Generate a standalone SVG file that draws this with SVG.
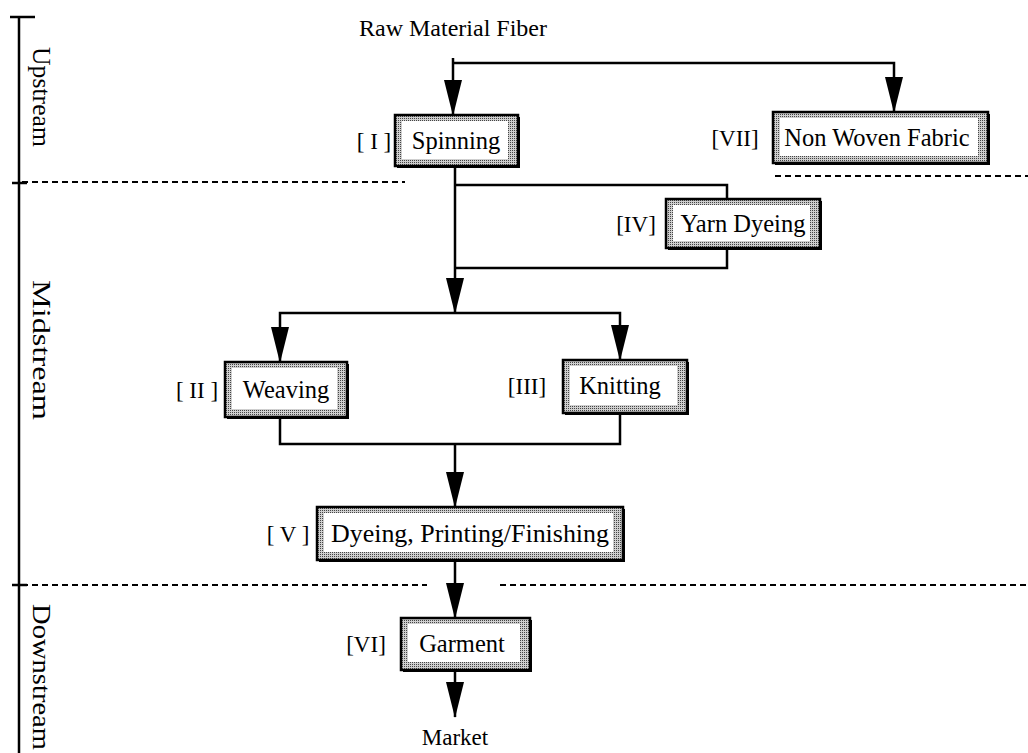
<svg xmlns="http://www.w3.org/2000/svg" width="1028" height="753" viewBox="0 0 1028 753">
<style>
text{font-family:"Liberation Serif","Times New Roman",serif;fill:#000}
.t{font-size:24.5px;text-anchor:middle}
.lab{font-size:23px;text-anchor:middle}
.side{font-size:25px;text-anchor:middle}
.ln{fill:none;stroke:#000;stroke-width:2.5}
.dash{fill:none;stroke:#000;stroke-width:2;stroke-dasharray:6 4}
.shadow{fill:#000}
.outer{fill:url(#dots);stroke:#000;stroke-width:2.5}
.inner{fill:#fff}
</style>
<defs>
<pattern id="dots" width="2" height="2" patternUnits="userSpaceOnUse">
<rect width="2" height="2" fill="#cfcfcf"/>
<rect width="1" height="1" fill="#444"/>
</pattern>
<marker id="arr" markerUnits="userSpaceOnUse" markerWidth="36" markerHeight="18" viewBox="0 0 36 18" refX="35" refY="9" orient="auto">
<path d="M0,0 L36,9 L0,18 Z" fill="#000"/>
</marker>
</defs>

<g id="axis">
<line class="ln" x1="19" y1="17" x2="19" y2="753" stroke-width="3"/>
<line class="ln" x1="10" y1="17" x2="35" y2="17" stroke-width="3"/>
<line class="ln" x1="12" y1="183" x2="27" y2="183"/>
<line class="ln" x1="12" y1="585" x2="27" y2="585"/>
<text class="side" transform="translate(33,97) rotate(90)" textLength="100" lengthAdjust="spacingAndGlyphs">Upstream</text>
<text class="side" transform="translate(33,350) rotate(90)" textLength="140" lengthAdjust="spacingAndGlyphs">Midstream</text>
<text class="side" transform="translate(33,677) rotate(90)" textLength="146" lengthAdjust="spacingAndGlyphs">Downstream</text>
</g>

<g id="dividers">
<line class="dash" x1="22" y1="182" x2="405" y2="182"/>
<line class="dash" x1="775" y1="176" x2="1028" y2="176"/>
<line class="dash" x1="22" y1="585" x2="427" y2="585"/>
<line class="dash" x1="500" y1="585" x2="1028" y2="585"/>
</g>

<g id="connectors">
<path class="ln" d="M453,58 V115" marker-end="url(#arr)"/>
<path class="ln" d="M453,63 H894 V112" marker-end="url(#arr)"/>
<path class="ln" d="M455,166 V313" marker-end="url(#arr)"/>
<path class="ln" d="M455,185 H727 V199"/>
<path class="ln" d="M727,248 V268 H455"/>
<path class="ln" d="M455,313 H280 V362" marker-end="url(#arr)"/>
<path class="ln" d="M455,313 H620 V360" marker-end="url(#arr)"/>
<path class="ln" d="M280,417 V444 H620 V413"/>
<path class="ln" d="M455,444 V507" marker-end="url(#arr)"/>
<path class="ln" d="M455,560 V618" marker-end="url(#arr)"/>
<path class="ln" d="M455,670 V717" marker-end="url(#arr)"/>
</g>

<g id="raw">
<text class="lab" x="453" y="36" style="font-size:24px">Raw Material Fiber</text>
</g>

<g id="spinning">
<rect class="shadow" x="397" y="117" width="123" height="51"/>
<rect class="outer" x="395" y="115" width="123" height="51"/>
<rect class="inner" x="402" y="121" width="106" height="38"/>
<text class="t" x="456" y="149">Spinning</text>
<text class="lab" x="374" y="149">[ I ]</text>
</g>

<g id="nonwoven">
<rect class="shadow" x="775" y="114" width="215" height="51"/>
<rect class="outer" x="773" y="112" width="215" height="51"/>
<rect class="inner" x="780" y="118" width="198" height="38"/>
<text class="t" x="877" y="146">Non Woven Fabric</text>
<text class="lab" x="735" y="146">[VII]</text>
</g>

<g id="yarndyeing">
<rect class="shadow" x="668" y="201" width="154" height="49"/>
<rect class="outer" x="666" y="199" width="154" height="49"/>
<rect class="inner" x="673" y="205" width="137" height="36"/>
<text class="t" x="743" y="232">Yarn Dyeing</text>
<text class="lab" x="636" y="232">[IV]</text>
</g>

<g id="weaving">
<rect class="shadow" x="227" y="364" width="122" height="55"/>
<rect class="outer" x="225" y="362" width="122" height="55"/>
<rect class="inner" x="232" y="368" width="105" height="41"/>
<text class="t" x="286" y="398">Weaving</text>
<text class="lab" x="197" y="398">[ II ]</text>
</g>

<g id="knitting">
<rect class="shadow" x="565" y="362" width="124" height="53"/>
<rect class="outer" x="563" y="360" width="124" height="53"/>
<rect class="inner" x="570" y="366" width="107" height="39"/>
<text class="t" x="620" y="394">Knitting</text>
<text class="lab" x="527" y="394">[III]</text>
</g>

<g id="dyeing">
<rect class="shadow" x="319" y="509" width="306" height="53"/>
<rect class="outer" x="317" y="507" width="306" height="53"/>
<rect class="inner" x="324" y="513" width="289" height="39"/>
<text class="t" x="470" y="542" textLength="278" lengthAdjust="spacingAndGlyphs">Dyeing, Printing/Finishing</text>
<text class="lab" x="288" y="542">[ V ]</text>
</g>

<g id="garment">
<rect class="shadow" x="403" y="620" width="129" height="52"/>
<rect class="outer" x="401" y="618" width="129" height="52"/>
<rect class="inner" x="408" y="624" width="112" height="38"/>
<text class="t" x="462" y="652">Garment</text>
<text class="lab" x="366" y="652">[VI]</text>
</g>

<g id="market">
<text class="lab" x="455" y="745">Market</text>
</g>
</svg>
